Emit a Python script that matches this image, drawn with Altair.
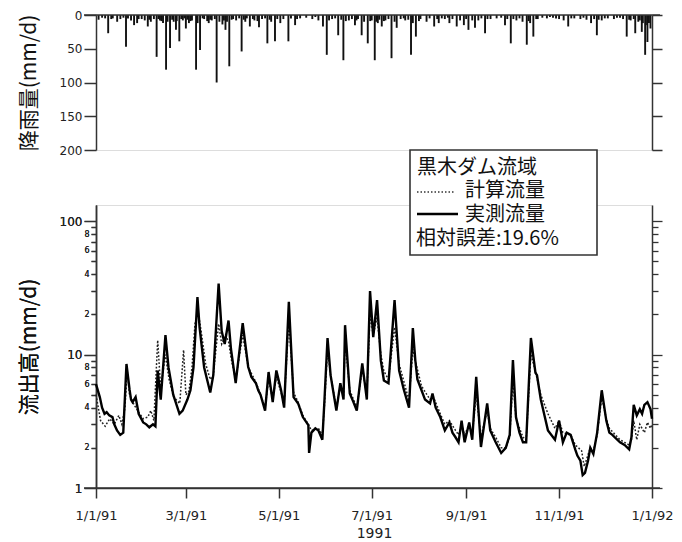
import altair as alt
import pandas as pd

# ---------------- data ----------------
RAIN_DAY = [1.7, 4, 6, 8, 10, 11, 13.9, 16, 18, 19.7, 21, 23, 25, 27, 28, 30, 32, 34, 35, 36, 38, 39.8,
            41, 42, 43, 44, 46, 47, 48.6, 50, 51, 52.5, 53, 54.7, 56, 57, 58, 59, 60, 61, 62, 63,
            65.7, 66.7, 68.3, 70, 71, 73, 74, 75, 76, 78, 79.2, 81, 83, 84, 85, 86, 87.5, 89, 90, 92,
            94, 95.6, 97, 98, 99, 101, 103, 104, 106, 107, 109, 111, 112.5, 114, 115, 117.5, 119,
            121, 123, 126.3, 128, 130.7, 132, 134, 138, 142, 144, 146, 149, 151.5, 153, 155, 157,
            159, 161, 162.4, 164, 166, 168, 170, 171, 172, 174.4, 176, 178.4, 180, 181, 183, 184,
            185, 186, 187.6, 189, 190, 192, 194, 196, 197.4, 200, 202, 203, 205, 206.8, 208, 210,
            212, 213, 217, 219, 222, 224, 225, 227, 229, 231, 232, 234, 236.8, 239, 241.5, 243,
            244.5, 247, 248.8, 251, 253, 255.4, 257, 259, 263, 266, 268.5, 270, 272.3, 274, 276,
            278, 280, 282.8, 284, 285, 287.1, 289, 290, 293, 296, 298, 300, 302, 304, 307, 310,
            312, 314, 318, 320, 322, 325, 327, 328.8, 330, 332, 334, 336, 340, 342, 344, 346,
            348.4, 350, 351, 353, 354, 356, 357, 358.3, 359, 360.5, 361, 362, 363, 364]
RAIN_MM = [7, 4, 5, 27, 6, 5, 10, 6, 4, 47, 5, 8, 15, 12, 6, 6, 8, 17, 7, 10, 6, 62,
           6, 8, 9, 12, 81, 10, 49, 7, 10, 22, 9, 39, 6, 8, 5, 20, 7, 12, 9, 8,
           81, 12, 52, 5, 6, 9, 12, 7, 8, 6, 100, 10, 14, 8, 22, 10, 76, 7, 6, 8,
           5, 54, 7, 10, 5, 17, 6, 8, 9, 18, 6, 5, 42, 7, 10, 39, 6,
           12, 6, 39, 5, 15, 6, 5, 4, 6, 3, 8, 17, 59, 8, 6, 5,
           30, 7, 67, 9, 8, 6, 15, 8, 6, 30, 10, 42, 9, 8, 67, 10,
           12, 7, 17, 9, 8, 6, 64, 10, 19, 6, 5, 8, 7, 59, 12, 32,
           9, 6, 10, 5, 17, 6, 12, 5, 6, 4, 12, 6, 17, 8, 15, 6,
           22, 8, 19, 8, 5, 27, 6, 6, 5, 4, 15, 6, 42, 6, 8,
           5, 10, 44, 9, 12, 32, 6, 6, 4, 5, 3, 4, 5, 6, 8, 17,
           5, 5, 6, 4, 7, 12, 6, 30, 7, 8, 5, 5, 6, 4, 4, 6,
           32, 7, 8, 6, 27, 10, 8, 25, 12, 59, 15, 40, 12, 20]

OBS_DAY = [0, 2.5, 4, 5.6, 7, 8.7, 10.8, 12, 13.8, 15.9, 17.9, 20, 22, 23, 24, 26, 28, 31, 33, 35,
           37.4, 39, 40.5, 42.5, 45.6, 47.6, 50.7, 54.8, 56.9, 60, 62, 64, 66.6, 68, 71, 75, 77,
           80.5, 82.5, 84.5, 87, 88.6, 91.7, 96.3, 99.9, 102, 105, 106.5, 108, 111, 113.3, 116,
           118.4, 121.5, 123.5, 126.6, 129.7, 132.7, 135.8, 139.4, 139.9, 141.4, 144, 146, 148.6,
           150, 152, 154, 157.8, 160.4, 162.5, 163.5, 166.6, 169, 171.2, 174.8, 177.8, 179.9, 182,
           184.5, 187, 189, 192, 196, 199, 202, 205.5, 208, 209.6, 211, 213.7, 216, 219.3, 220.9,
           223, 226, 229, 232, 234, 236, 238, 240, 242, 245, 247, 249.6, 252.7, 256.8, 258.8,
           262.4, 266, 269, 271.6, 273.7, 275.7, 278, 280.3, 282.4, 285.5, 288.5, 289.5, 292,
           296.7, 301.3, 304, 306.5, 309, 311.6, 314.7, 316, 318, 319.5, 321, 323, 324.5, 326.5,
           329, 332, 335, 337, 339, 341, 344, 347, 350, 351.5, 353, 355, 357, 358.5, 360, 362,
           364, 365]
OBS_Q = [6.0, 4.8, 4.0, 3.6, 3.7, 3.5, 3.4, 3.0, 2.7, 2.5, 2.6, 8.5, 5.5, 4.6, 4.4, 4.8, 3.6, 3.1,
         3.0, 2.85, 3.0, 2.9, 7.6, 4.6, 14, 8, 5, 3.6, 3.8, 4.6, 5.4, 8, 27, 16, 8, 5.2, 7,
         34, 15, 12, 18, 11, 6.1, 17.2, 8.1, 6.8, 6.1, 5.4, 5.0, 3.8, 7.4, 4.4,
         7.6, 5.4, 4.0, 24.8, 4.8, 4.3, 3.4, 2.96, 1.83, 2.6, 2.8, 2.7, 2.3,
         4.6, 13.3, 7, 3.8, 6.1, 4.6, 16.6, 5.1, 4.4, 3.8, 8.6, 4.6, 29.9, 13.5,
         25.6, 9, 6.4, 6.1, 25.6, 7.6, 5.5, 4.0, 15.8, 9.1, 6.5, 5.4, 4.6, 4.3, 5.1,
         4.0, 3.4, 2.7, 3.1, 2.6, 2.4, 2.2, 3.2, 2.2, 3.1, 2.3, 6.8, 2.03, 4.3, 2.7,
         2.2, 1.83, 2.0, 2.5, 9.1, 3.4, 2.6, 2.2, 2.2, 13.3, 7.3, 7.0, 4.6,
         2.7, 2.3, 3.2, 2.2, 2.6, 2.5, 1.93, 1.75, 1.6, 1.25, 1.3, 1.6, 2.0, 1.8,
         2.6, 5.4, 3.2, 2.6, 2.5, 2.37, 2.2, 2.1, 1.95, 2.4, 4.2, 3.5, 3.9, 3.6, 4.2, 4.4,
         3.9, 3.3]

CALC_DAY = [0, 3, 6, 9, 12, 15, 17, 19, 20.5, 22, 25, 28, 31, 34, 36, 38, 40.5, 42.5, 45.5, 48,
            51, 55, 57.5, 59, 61, 63, 65, 67, 69, 72, 75, 77, 80.5, 82.5, 85, 87, 89, 91.7, 96.3,
            100, 105, 108, 111, 113.3, 116, 118.4, 121.5, 123.5, 126.6, 129.7, 132.7, 135.8, 139.4,
            141.4, 146, 148.6, 150, 152, 154, 157.8, 160.4, 162.5, 163.5, 166.6, 171.2, 174.8, 177.8,
            179.9, 182, 184.5, 187, 189, 192, 196, 199, 205.5, 208, 209.6, 213.7, 219.3, 220.9, 226,
            229, 232, 236, 238, 240, 242, 245, 247, 249.6, 252.7, 256.8, 258.8, 262.4, 266, 269,
            271.6, 273.7, 275.7, 280.3, 282.4, 285.5, 288.5, 292, 296.7, 301.3, 304, 306.5, 311.6,
            314.7, 318.8, 320.5, 324.5, 326.5, 329, 332, 335, 337, 341, 344, 347, 350, 351.5, 353,
            355, 357, 360, 362, 364, 365]
CALC_Q = [5.0, 3.2, 2.9, 3.3, 3.0, 3.5, 3.0, 4.0, 7.5, 5.0, 4.2, 3.7, 3.3, 3.4, 3.8, 3.2, 12.8, 5.5, 10, 6.5,
          4.8, 4.3, 10.8, 5.0, 5.3, 8.0, 17, 21, 15, 8.5, 6.5, 7, 17, 12, 14, 12.5, 9, 6.5, 14,
          8, 6.2, 5, 4, 6.5, 4.6, 6.8, 5.2, 4.3, 18, 5.2, 4.4, 3.5, 3.0,
          2.7, 2.8, 2.5, 4.2, 11, 7, 4.0, 5.8, 4.8, 13, 5.4, 4.0, 7.8, 5.0,
          20, 14, 19, 10, 7.5, 6.5, 16, 8.5, 4.5, 11, 9, 5.8, 4.6, 5.0, 3.6,
          3.0, 3.2, 2.7, 2.5, 3.0, 2.5, 3.0, 2.5, 5.0, 2.4, 3.8, 2.8, 2.4, 2.0, 2.0,
          2.4, 6.5, 3.3, 2.4, 2.3, 10, 7.5, 5.0, 3.6, 2.8, 3.2, 2.6, 2.5,
          2.1, 1.9, 1.45, 2.0, 1.9, 2.5, 4.8, 3.3, 2.8, 2.5, 2.3, 2.2, 2.1, 2.3, 3.2,
          2.3, 3.0, 2.6, 3.1, 2.8, 3.0]

TICK_DAYS = [0, 59, 120, 181, 243, 304, 365]
TICK_LABELS = ["1/1/91", "3/1/91", "5/1/91", "7/1/91", "9/1/91", "11/1/91", "1/1/92"]
RAIN_TICKS = [0, 50, 100, 150, 200]
LOG_TICKS = [1, 2, 3, 4, 5, 6, 7, 8, 9, 10, 20, 30, 40, 50, 60, 70, 80, 90, 100]
LOG_LABELS = ["1", "2", "", "4", "", "6", "", "8", "", "10", "2", "", "4", "", "6", "", "8", "", "100"]
LEGEND_TITLE = "黒木ダム流域"
LEGEND_CALC = "計算流量"
LEGEND_OBS = "実測流量"
LEGEND_ERR = "相対誤差:19.6%"

# ---------------- layout / style ----------------
W = 556
H1 = 135
H2 = 283
AX = "#333333"
JP = "Noto Sans CJK JP"
NUM = "DejaVu Sans"


def label_expr(values, labels):
    expr = "''"
    for v, l in reversed(list(zip(values, labels))):
        expr = f"datum.value == {v} ? '{l}' : ({expr})"
    return expr


MAJOR = "datum.value == 1 || datum.value == 10 || datum.value == 100"

xscale = alt.Scale(domain=[0, 365], nice=False, zero=False)

# ---------- top panel: rainfall ----------
rain_df = pd.DataFrame({"day": RAIN_DAY, "rain": RAIN_MM})
top_x_axis = alt.Axis(orient="top", labels=False, ticks=False, title=None, grid=False, domain=False)
rain_scale = alt.Scale(domain=[0, 200], reverse=True, nice=False, zero=False)

rain_bars = alt.Chart(rain_df).mark_rule(color="#111111", strokeWidth=1.9).encode(
    x=alt.X("day:Q", scale=xscale, axis=top_x_axis),
    y=alt.Y("rain:Q", scale=rain_scale,
            axis=alt.Axis(orient="left", values=RAIN_TICKS, title="降雨量(mm/d)", grid=False,
                          tickSize=12, tickWidth=1.5, tickColor=AX, domainColor=AX, domainWidth=1.5,
                          labelFont=NUM, labelFontSize=12, labelColor="#222", labelPadding=2,
                          labelFlush=False,
                          titleFont=JP, titleFontSize=21, titleFontWeight="normal", titleColor="#111",
                          titleAngle=-90, titleAlign="center", titleBaseline="middle",
                          titleX=-67, titleY=H1 / 2)),
    y2=alt.datum(0),
)
rain_right = alt.Chart(rain_df).mark_rule(opacity=0).encode(
    x=alt.X("day:Q", scale=xscale, axis=top_x_axis),
    y=alt.Y("rain:Q", scale=rain_scale,
            axis=alt.Axis(orient="right", values=RAIN_TICKS, labels=False, title=None, grid=False,
                          tickSize=10, tickWidth=1.5, tickColor=AX, domainColor=AX, domainWidth=1.5)),
)
one = pd.DataFrame({"k": [0]})
top_line = alt.Chart(one).mark_rule(color=AX, strokeWidth=1.5).encode(
    x=alt.value(-12), x2=alt.value(W + 8), y=alt.value(0))
top = alt.layer(rain_bars, rain_right, top_line).resolve_axis(y="independent").properties(width=W, height=H1)

# ---------- bottom panel: discharge ----------
obs_df = pd.DataFrame({"day": OBS_DAY, "q": OBS_Q})
calc_df = pd.DataFrame({"day": CALC_DAY, "q": CALC_Q})
log_scale = alt.Scale(type="log", domain=[1, 132], nice=False)

bottom_x_axis = alt.Axis(orient="bottom", values=TICK_DAYS, labelExpr=label_expr(TICK_DAYS, TICK_LABELS),
                         title="1991", grid=False, tickSize=10, tickWidth=1.5, tickColor=AX,
                         domainColor=AX, domainWidth=1.5, labelFont=NUM, labelFontSize=13,
                         labelColor="#222", labelPadding=11, labelFlush=False, titleFont=NUM,
                         titleFontSize=14, titleFontWeight="normal", titleColor="#222", titlePadding=4)

left_log_axis = alt.Axis(orient="left", values=LOG_TICKS, labelExpr=label_expr(LOG_TICKS, LOG_LABELS),
                         title="流出高(mm/d)", grid=False,
                         tickSize={"condition": {"test": MAJOR, "value": 12}, "value": 5},
                         tickWidth=1.3, tickColor=AX, domainColor=AX, domainWidth=1.5,
                         labelFont=NUM, labelColor="#222",
                         labelFontSize={"condition": {"test": MAJOR, "value": 12}, "value": 8},
                         labelPadding=2, labelFlush=False,
                         titleFont=JP, titleFontSize=21, titleFontWeight="normal", titleColor="#111",
                         titleAngle=-90, titleAlign="center", titleBaseline="middle",
                         titleX=-67, titleY=H2 / 2)
right_log_axis = alt.Axis(orient="right", values=LOG_TICKS, labels=False, title=None, grid=False,
                          tickSize={"condition": {"test": MAJOR, "value": 10}, "value": 6},
                          tickWidth=1.3, tickColor=AX, domainColor=AX, domainWidth=1.5)

calc_line = alt.Chart(calc_df).mark_line(color="#222222", strokeWidth=1.5, strokeDash=[1.8, 1.8]).encode(
    x=alt.X("day:Q", scale=xscale, axis=bottom_x_axis),
    y=alt.Y("q:Q", scale=log_scale, axis=left_log_axis),
)
obs_line = alt.Chart(obs_df).mark_line(color="#000000", strokeWidth=2.4).encode(
    x=alt.X("day:Q", scale=xscale, axis=bottom_x_axis),
    y=alt.Y("q:Q", scale=log_scale, axis=left_log_axis),
)
right_dummy = alt.Chart(obs_df).mark_line(opacity=0).encode(
    x=alt.X("day:Q", scale=xscale, axis=bottom_x_axis),
    y=alt.Y("q:Q", scale=log_scale, axis=right_log_axis),
)
bottom_line = alt.Chart(one).mark_rule(color=AX, strokeWidth=1.5).encode(
    x=alt.value(-12), x2=alt.value(W + 8), y=alt.value(H2))

legend_box = alt.Chart(one).mark_rect(fill="white", stroke="#333333", strokeWidth=1.6).encode(
    x=alt.value(314), x2=alt.value(501), y=alt.value(-55), y2=alt.value(50))


def legend_text(txt, x, y):
    return alt.Chart(pd.DataFrame({"t": [txt]})).mark_text(
        font=JP, fontSize=20, color="#111111", align="left", baseline="middle").encode(
        text="t:N", x=alt.value(x), y=alt.value(y))


legend_calc_sample = alt.Chart(one).mark_rule(color="#333333", strokeWidth=1.3, strokeDash=[1.5, 2]).encode(
    x=alt.value(321), x2=alt.value(359), y=alt.value(-13))
legend_obs_sample = alt.Chart(one).mark_rule(color="#000000", strokeWidth=2.5).encode(
    x=alt.value(321), x2=alt.value(362), y=alt.value(9))

bottom = alt.layer(
    calc_line, obs_line, right_dummy, bottom_line,
    legend_box,
    legend_text(LEGEND_TITLE, 321, -37),
    legend_text(LEGEND_CALC, 369, -14),
    legend_text(LEGEND_OBS, 369, 10),
    legend_text(LEGEND_ERR, 320, 34),
    legend_calc_sample, legend_obs_sample,
).resolve_axis(y="independent").properties(width=W, height=H2)

chart = alt.vconcat(top, bottom, spacing=55, bounds="flush").properties(
    padding={"left": 9, "top": 0, "right": 0, "bottom": 0}
).configure_view(stroke=None).configure(background="white")

chart.save("out.html", embed_options={"renderer": "svg", "actions": False})
